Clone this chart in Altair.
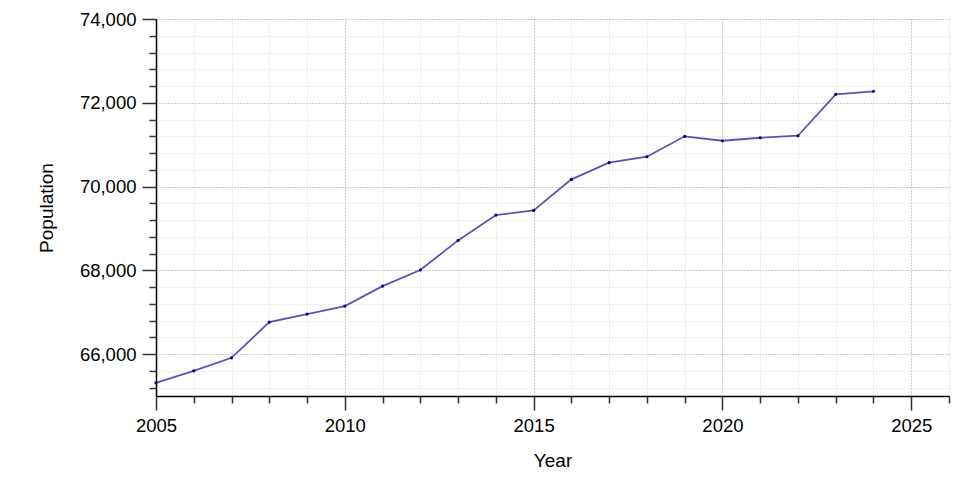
import pandas as pd
import altair as alt

# population by year
years = [2005, 2006, 2007, 2008, 2009, 2010, 2011, 2012, 2013, 2014,
         2015, 2016, 2017, 2018, 2019, 2020, 2021, 2022, 2023, 2024]
population = [65315, 65601, 65912, 66764, 66955, 67146, 67624, 68008, 68715, 69319,
              69431, 70171, 70570, 70712, 71199, 71094, 71165, 71213, 72201, 72273]

x_ticks = list(range(2005, 2027))
y_ticks = list(range(65200, 74001, 400))

df = pd.DataFrame({'year': years, 'population': population})

font = 'Liberation Sans'

x_axis = alt.Axis(
    title='Year', values=x_ticks, format='d',
    labelExpr="datum.value % 5 === 0 ? '' + datum.value : ''",
    labelFlush=False, labelOverlap=False,
    tickSize={'condition': {'test': 'datum.value % 5 === 0', 'value': 14}, 'value': 7},
    gridColor={'condition': {'test': 'datum.value % 5 === 0', 'value': '#9a9a9a'}, 'value': '#d8d8d8'},
    gridDash=[1, 2], labelPadding=6, titlePadding=17
)

y_axis = alt.Axis(
    title='Population', values=y_ticks,
    labelExpr="datum.value % 2000 === 0 ? format(datum.value, ',') : ''",
    labelOverlap=False,
    tickSize={'condition': {'test': 'datum.value % 2000 === 0', 'value': 14}, 'value': 7},
    gridColor={'condition': {'test': 'datum.value % 2000 === 0', 'value': '#9a9a9a'}, 'value': '#d8d8d8'},
    gridDash=[1, 2], labelPadding=6, titlePadding=23
)

base = alt.Chart(df).encode(
    x=alt.X('year:Q', scale=alt.Scale(domain=[2005, 2026], nice=False, zero=False), axis=x_axis),
    y=alt.Y('population:Q', scale=alt.Scale(domain=[65000, 74000], nice=False, zero=False), axis=y_axis)
)

line = base.mark_line(color='#4a3fae', strokeWidth=1.8, opacity=0.9)
points = base.mark_circle(color='#000080', size=10, opacity=1)

chart = alt.layer(line, points).properties(
    width=793, height=377,
    autosize=alt.AutoSizeParams(type='none'),
    padding={'left': 148, 'top': 11, 'right': 3, 'bottom': 76}
).configure_view(
    stroke=None
).configure_axis(
    labelFont=font, titleFont=font,
    labelFontSize=18.5, titleFontSize=19,
    labelColor='black', titleColor='black',
    titleFontWeight='normal',
    domainColor='black', domainWidth=1.5,
    tickColor='#333333', tickWidth=1.5
)

chart.save('out.html', embed_options={'renderer': 'svg', 'actions': False})
